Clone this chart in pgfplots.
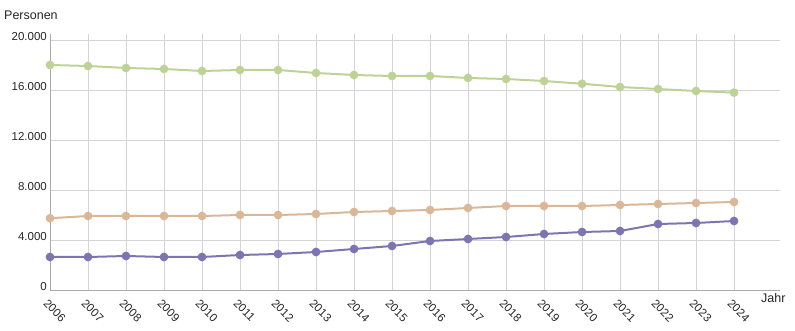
\documentclass[border=0pt]{standalone}
\usepackage{pgfplots}
\pgfplotsset{compat=1.18}
\usepackage{fontspec}
\setmainfont{Liberation Sans}
\definecolor{cgreen}{HTML}{BDD396}
\definecolor{ctan}{HTML}{D9B797}
\definecolor{cpurple}{HTML}{7F74B2}
\definecolor{cgrid}{HTML}{D4D4D4}
\definecolor{caxis}{HTML}{AAAAAA}
\begin{document}
\fontsize{11}{13}\selectfont
\begin{tikzpicture}
\useasboundingbox (0,0) rectangle (795pt,331pt);
\begin{axis}[
  at={(50pt,41pt)}, anchor=south west,
  scale only axis, width=730pt, height=256pt,
  xmin=2006, xmax=2025.21, ymin=0, ymax=20480,
  xtick={2006,...,2024}, ytick={0,4000,...,20000},
  scaled y ticks=false,
  xticklabel style={rotate=-45, anchor=north west, inner sep=0pt, xshift=5pt, yshift=-7pt, /pgf/number format/1000 sep={}},
  yticklabel style={/pgf/number format/fixed, /pgf/number format/1000 sep={.}, inner sep=1pt, xshift=-2pt, yshift=3pt},
  /pgf/number format/assume math mode=true,
  grid=major, major grid style={cgrid, line width=0.6pt},
  axis x line=bottom, axis y line=left,
  axis line style={caxis, line width=0.8pt, -},
  major tick length=0pt,
  tick label style={font=\fontsize{11.5}{13}\selectfont, text=black!85},
  clip=false,
]
\addplot[cgreen, line width=2pt, mark=*, mark size=3.3pt] coordinates {
(2006,18000) (2007,17920) (2008,17760) (2009,17680) (2010,17520) (2011,17600)
(2012,17600) (2013,17360) (2014,17200) (2015,17120) (2016,17120) (2017,16960)
(2018,16880) (2019,16720) (2020,16500) (2021,16240) (2022,16080) (2023,15920) (2024,15790)};
\addplot[ctan, line width=2pt, mark=*, mark size=3.3pt] coordinates {
(2006,5740) (2007,5920) (2008,5920) (2009,5920) (2010,5920) (2011,6000)
(2012,6000) (2013,6080) (2014,6240) (2015,6320) (2016,6400) (2017,6560)
(2018,6720) (2019,6720) (2020,6720) (2021,6800) (2022,6880) (2023,6960) (2024,7040)};
\addplot[cpurple, line width=2pt, mark=*, mark size=3.3pt] coordinates {
(2006,2640) (2007,2640) (2008,2720) (2009,2640) (2010,2640) (2011,2800)
(2012,2880) (2013,3040) (2014,3280) (2015,3520) (2016,3920) (2017,4080)
(2018,4240) (2019,4480) (2020,4640) (2021,4720) (2022,5280) (2023,5360) (2024,5520)};
\end{axis}
\node[anchor=base west, inner sep=0pt, text=black!85, font=\fontsize{12.5}{14}\selectfont] at (4pt,311pt) {Personen};
\node[anchor=base west, inner sep=0pt, text=black!85, font=\fontsize{12.5}{14}\selectfont] at (761pt,28pt) {Jahr};
\end{tikzpicture}
\end{document}
